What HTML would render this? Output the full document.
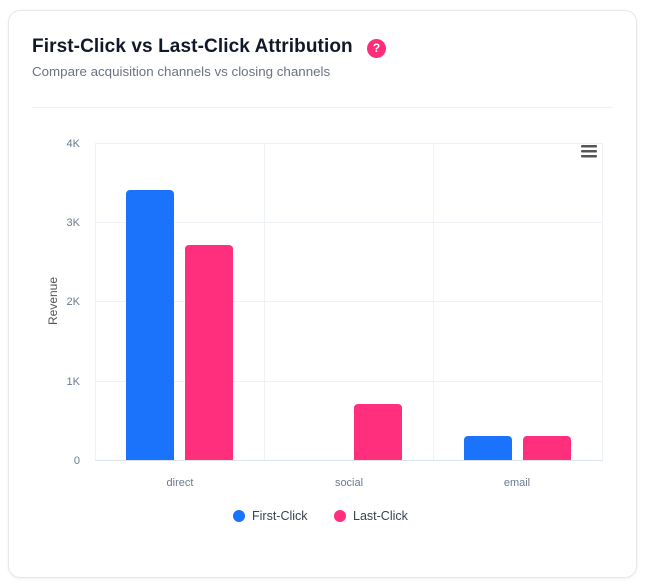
<!DOCTYPE html>
<html><head><style>
body{margin:0;width:647px;height:585px;background:#fff;font-family:"Liberation Sans",sans-serif;}
.card{position:absolute;left:8px;top:10px;width:627px;height:566px;border:1px solid #e5e7eb;border-radius:12px;box-shadow:0 1px 3px rgba(0,0,0,.06);}
</style></head><body>
<div class="card"></div>
<div style="position:absolute;left:32px;top:36px;font-size:19px;font-weight:bold;color:#111827;letter-spacing:0.1px">First-Click vs Last-Click Attribution</div>
<div style="position:absolute;left:367px;top:39px;width:19px;height:19px;border-radius:50%;background:#ff2d7a;color:#fff;font-size:12px;font-weight:bold;text-align:center;line-height:19px">?</div>
<div style="position:absolute;left:32px;top:64px;font-size:13.35px;color:#6b7280">Compare acquisition channels vs closing channels</div>
<div style="position:absolute;left:32px;top:107px;width:581px;height:1px;background:#eef0f3"></div>
<svg width="647" height="585" style="position:absolute;left:0;top:0" font-family="Liberation Sans, sans-serif">
<g stroke="#eef1f5" stroke-width="1">
<line x1="95" y1="143.5" x2="603" y2="143.5"/><line x1="95" y1="222.5" x2="603" y2="222.5"/>
<line x1="95" y1="301.5" x2="603" y2="301.5"/><line x1="95" y1="381.5" x2="603" y2="381.5"/>
<line x1="95.5" y1="143" x2="95.5" y2="460"/><line x1="264.5" y1="143" x2="264.5" y2="460"/>
<line x1="433.5" y1="143" x2="433.5" y2="460"/><line x1="602.5" y1="143" x2="602.5" y2="460"/>
</g>
<line x1="95" y1="460.5" x2="603" y2="460.5" stroke="#dde3ea"/>
<g fill="#6b7a90" font-size="11" text-anchor="end">
<text x="80" y="147">4K</text><text x="80" y="226">3K</text><text x="80" y="305">2K</text><text x="80" y="385">1K</text><text x="80" y="464">0</text>
</g>
<text transform="translate(57,301) rotate(-90)" text-anchor="middle" font-size="12" fill="#555">Revenue</text>
<g fill="#1a73fa">
<path d="M126 460V194a4 4 0 0 1 4-4h40a4 4 0 0 1 4 4V460z"/>
<path d="M464 460V440a4 4 0 0 1 4-4h40a4 4 0 0 1 4 4V460z"/>
</g>
<g fill="#ff2f7d">
<path d="M185 460V249a4 4 0 0 1 4-4h40a4 4 0 0 1 4 4V460z"/>
<path d="M354 460V408a4 4 0 0 1 4-4h40a4 4 0 0 1 4 4V460z"/>
<path d="M523 460V440a4 4 0 0 1 4-4h40a4 4 0 0 1 4 4V460z"/>
</g>
<g fill="#6b7a90" font-size="11" text-anchor="middle">
<text x="180" y="486">direct</text><text x="349" y="486">social</text><text x="517" y="486">email</text>
</g>
<g fill="#555"><rect x="581" y="145" width="16" height="2.5" rx="1"/><rect x="581" y="150" width="16" height="2.5" rx="1"/><rect x="581" y="155" width="16" height="2.5" rx="1"/></g>
<circle cx="239" cy="516" r="6" fill="#1a73fa"/>
<text x="252" y="520" font-size="12.5" fill="#374151">First-Click</text>
<circle cx="340" cy="516" r="6" fill="#ff2f7d"/>
<text x="353" y="520" font-size="12.5" fill="#374151">Last-Click</text>
</svg>
</body></html>
